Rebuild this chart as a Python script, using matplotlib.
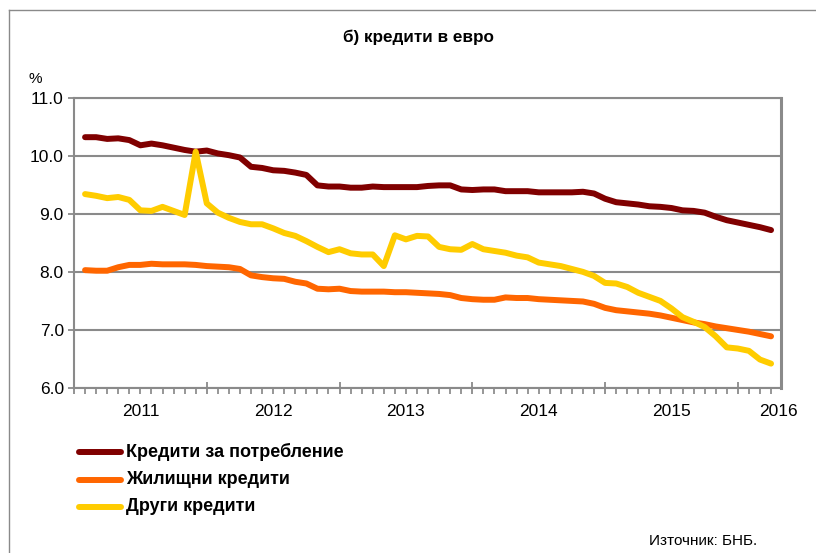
import matplotlib
matplotlib.use("Agg")
import matplotlib.pyplot as plt
from matplotlib.lines import Line2D
from matplotlib.ticker import FixedLocator, NullFormatter

plt.rcParams['font.family'] = ['Liberation Sans', 'DejaVu Sans']

# Monthly observations, x = month index on the date axis (0 = start of 2011)
months = list(range(1, 64))

consumer = [10.32, 10.32, 10.29, 10.30, 10.27, 10.18, 10.21, 10.18, 10.14, 10.10,
            10.07, 10.09, 10.04, 10.01, 9.97, 9.81, 9.79, 9.75, 9.74, 9.71,
            9.67, 9.49, 9.47, 9.47, 9.45, 9.45, 9.47, 9.46, 9.46, 9.46,
            9.46, 9.48, 9.49, 9.49, 9.42, 9.41, 9.42, 9.42, 9.39, 9.39,
            9.39, 9.37, 9.37, 9.37, 9.37, 9.38, 9.35, 9.26, 9.20, 9.18,
            9.16, 9.13, 9.12, 9.10, 9.06, 9.05, 9.02, 8.95, 8.89, 8.85,
            8.81, 8.77, 8.72]

housing = [8.03, 8.02, 8.02, 8.08, 8.12, 8.12, 8.14, 8.13, 8.13, 8.13,
           8.12, 8.10, 8.09, 8.08, 8.05, 7.94, 7.91, 7.89, 7.88, 7.83,
           7.80, 7.71, 7.70, 7.71, 7.67, 7.66, 7.66, 7.66, 7.65, 7.65,
           7.64, 7.63, 7.62, 7.60, 7.55, 7.53, 7.52, 7.52, 7.56, 7.55,
           7.55, 7.53, 7.52, 7.51, 7.50, 7.49, 7.45, 7.38, 7.34, 7.32,
           7.30, 7.28, 7.25, 7.21, 7.17, 7.13, 7.10, 7.06, 7.03, 7.00,
           6.97, 6.93, 6.89]

other = [9.34, 9.31, 9.27, 9.29, 9.24, 9.06, 9.05, 9.12, 9.05, 8.98,
         10.07, 9.18, 9.02, 8.93, 8.86, 8.82, 8.82, 8.75, 8.67, 8.62,
         8.53, 8.43, 8.34, 8.39, 8.32, 8.30, 8.30, 8.10, 8.63, 8.56,
         8.62, 8.61, 8.43, 8.39, 8.38, 8.48, 8.39, 8.36, 8.33, 8.28,
         8.25, 8.16, 8.13, 8.10, 8.05, 8.00, 7.93, 7.81, 7.80, 7.74,
         7.64, 7.57, 7.50, 7.37, 7.22, 7.14, 7.05, 6.89, 6.70, 6.68,
         6.64, 6.49, 6.42]

year_labels = ['2011', '2012', '2013', '2014', '2015', '2016']
year_label_pos = [6, 18, 30, 42, 54, 63.7]

series_names = ['Кредити за потребление', 'Жилищни кредити', 'Други кредити']
series_colors = ['#800000', '#FF6600', '#FFCC00']

title = 'б) кредити в евро'
source = 'Източник: БНБ.'

W, H = 816, 553
fig = plt.figure(figsize=(W / 100, H / 100), dpi=100)
ax = fig.add_axes([74 / W, 1 - 388 / H, (781 - 74) / W, (388 - 97.7) / H])

grid_c = '#8a8a8a'
lw = 4.3
for ys, c in zip([consumer, housing, other], series_colors):
    ax.plot(months, ys, color=c, lw=lw, solid_capstyle='round',
            solid_joinstyle='round', zorder=3)

ax.set_xlim(0, 63.9)
ax.set_ylim(6.0, 11.0)
ax.set_yticks([6, 7, 8, 9, 10, 11])
ax.set_yticklabels([f'{v:.1f}' for v in [6, 7, 8, 9, 10, 11]])
ax.yaxis.grid(True, color=grid_c, lw=1.5)
ax.set_axisbelow(True)

ax.xaxis.set_major_locator(FixedLocator([0, 12, 24, 36, 48, 60]))
ax.xaxis.set_minor_locator(FixedLocator(list(range(0, 64))))
ax.xaxis.set_major_formatter(NullFormatter())
ax.tick_params(axis='x', which='major', direction='inout', length=9, width=1.3, color=grid_c)
ax.tick_params(axis='x', which='minor', direction='out', length=4, width=1.1, color='#7a7a7a')
ax.tick_params(axis='y', which='major', direction='out', length=4.3, width=1.3, color=grid_c,
               labelsize=12.5, pad=3)

for t, xp in zip(year_labels, year_label_pos):
    ax.text(xp, -0.08, t, transform=ax.get_xaxis_transform(), ha='center', va='center',
            fontsize=12.5)

for s in ['left', 'bottom', 'right', 'top']:
    ax.spines[s].set_color(grid_c)
    ax.spines[s].set_linewidth(1.5)
ax.spines['right'].set_linewidth(2.2)

# Title and labels
fig.text(418 / W, 1 - 37 / H, title, ha='center', va='center', fontsize=12.3, fontweight='bold')
fig.text(35 / W, 1 - 79 / H, '%', ha='center', va='center', fontsize=11)
fig.text(757 / W, 1 - 541 / H, source, ha='right', va='center', fontsize=11)

# Legend (manual)
rows_y = [451.5, 479.5, 506.5]
for name, c, yy in zip(series_names, series_colors, rows_y):
    yf = 1 - yy / H
    fig.add_artist(Line2D([79 / W, 121 / W], [yf, yf], color=c, lw=4.3,
                          solid_capstyle='round', transform=fig.transFigure))
    fig.text(126 / W, yf, name, ha='left', va='center', fontsize=13, fontweight='bold')

# Outer frame fragments
fig.add_artist(Line2D([9 / W, 1.0], [1 - 10 / H, 1 - 10 / H], color='#8a8a8a', lw=1.0,
                      transform=fig.transFigure))
fig.add_artist(Line2D([9 / W, 9 / W], [1 - 10 / H, 0.0], color='#8a8a8a', lw=1.0,
                      transform=fig.transFigure))

fig.savefig('out.png', dpi=100)
